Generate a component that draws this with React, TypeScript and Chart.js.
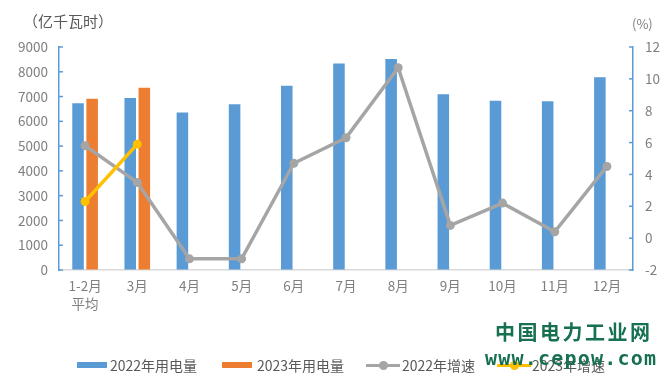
import React, { useEffect, useRef } from "react";
import { Chart, registerables } from "chart.js";

Chart.register(...registerables);

const categories: (string | string[])[] = [
  ["1-2月", "平均"], "3月", "4月", "5月", "6月", "7月", "8月", "9月", "10月", "11月", "12月",
];
const use2022 = [6730, 6940, 6360, 6690, 7440, 8330, 8520, 7090, 6830, 6810, 7780];
const use2023 = [6910, 7360, null, null, null, null, null, null, null, null, null];
const growth2022 = [5.8, 3.5, -1.3, -1.3, 4.7, 6.3, 10.7, 0.8, 2.2, 0.4, 4.5];
const growth2023 = [2.3, 5.9, null, null, null, null, null, null, null, null, null];
const leftTicks = { min: 0, max: 9000, step: 1000 };
const rightTicks = { min: -2, max: 12, step: 2 };

const FONT = '"Noto Sans CJK SC", "Noto Sans", sans-serif';
const BLUE = "#5B9BD5";
const ORANGE = "#ED7D31";
const GRAY = "#A5A5A5";
const YELLOW = "#FFC000";
const TEXT = "#7F7F7F";
const GREEN = "#17704F";

const innerTicks = {
  id: "innerTicks",
  afterDraw(chart: any) {
    const ctx = chart.ctx;
    ctx.save();
    ctx.strokeStyle = BLUE;
    ctx.lineWidth = 1.5;
    const y = chart.scales.y;
    const y1 = chart.scales.y1;
    y.ticks.forEach((_t: any, i: number) => {
      const p = y.getPixelForTick(i);
      ctx.beginPath();
      ctx.moveTo(y.right, p);
      ctx.lineTo(y.right + 4, p);
      ctx.stroke();
    });
    y1.ticks.forEach((_t: any, i: number) => {
      const p = y1.getPixelForTick(i);
      ctx.beginPath();
      ctx.moveTo(y1.left, p);
      ctx.lineTo(y1.left - 4, p);
      ctx.stroke();
    });
    ctx.restore();
  },
};

export default function App() {
  const ref = useRef<HTMLCanvasElement>(null);
  useEffect(() => {
    document.body.style.margin = "0";
    const chart = new Chart(ref.current!, {
      type: "bar",
      data: {
        labels: categories as any,
        datasets: [
          { type: "line", label: "2022年增速", data: growth2022, yAxisID: "y1", borderColor: GRAY, backgroundColor: GRAY, borderWidth: 3.5, pointRadius: 4.5, pointBorderWidth: 0, pointBackgroundColor: GRAY, order: 1 },
          { type: "line", label: "2023年增速", data: growth2023 as any, yAxisID: "y1", borderColor: YELLOW, backgroundColor: YELLOW, borderWidth: 3.5, pointRadius: 4.5, pointBorderWidth: 0, pointBackgroundColor: YELLOW, order: 0 },
          { type: "bar", label: "2022年用电量", data: use2022, yAxisID: "y", backgroundColor: BLUE, categoryPercentage: 0.54, barPercentage: 0.82, order: 2 },
          { type: "bar", label: "2023年用电量", data: use2023 as any, yAxisID: "y", backgroundColor: ORANGE, categoryPercentage: 0.54, barPercentage: 0.82, order: 3 },
        ] as any,
      },
      options: {
        animation: false,
        responsive: false,
        maintainAspectRatio: false,
        layout: { padding: { top: 47, left: 0, right: 0, bottom: 0 } },
        plugins: { legend: { display: false }, tooltip: { enabled: false } },
        scales: {
          x: {
            grid: { display: true, drawOnChartArea: false, drawTicks: false },
            border: { color: "#D9D9D9", width: 1.5 },
            ticks: { color: TEXT, font: { family: FONT, size: 13.5, lineHeight: 1.32 }, padding: 7, maxRotation: 0, autoSkip: false },
            afterFit: (s: any) => { s.height = 118; },
          },
          y: {
            position: "left",
            min: leftTicks.min, max: leftTicks.max,
            grid: { display: true, drawOnChartArea: false, drawTicks: false },
            border: { color: BLUE, width: 1.5 },
            ticks: { stepSize: leftTicks.step, color: TEXT, font: { family: FONT, size: 13.5 }, padding: 11, callback: (v: any) => String(v) },
            afterFit: (s: any) => { s.width = 59; },
          },
          y1: {
            position: "right",
            min: rightTicks.min, max: rightTicks.max,
            grid: { display: true, drawOnChartArea: false, drawTicks: false },
            border: { color: BLUE, width: 1.5 },
            ticks: { stepSize: rightTicks.step, color: TEXT, font: { family: FONT, size: 13.5 }, padding: 12, callback: (v: any) => String(v) },
            afterFit: (s: any) => { s.width = 39; },
          },
        },
      },
      plugins: [innerTicks],
    });
    return () => chart.destroy();
  }, []);

  const legendText: React.CSSProperties = { position: "absolute", top: 356, fontFamily: FONT, fontSize: 14, color: "#595959", lineHeight: "18px", whiteSpace: "nowrap" };
  const swatch = (left: number, color: string): React.CSSProperties => ({ position: "absolute", left, top: 362, width: 30, height: 6, background: color });
  const lineSw = (left: number, color: string) => (
    <>
      <div style={{ position: "absolute", left, top: 363.5, width: 34, height: 3.5, background: color }} />
      <div style={{ position: "absolute", left: left + 12.5, top: 360.5, width: 9, height: 9, borderRadius: "50%", background: color }} />
    </>
  );

  return (
    <div style={{ position: "absolute", left: 0, top: 0, width: 672, height: 388, background: "#fff", overflow: "hidden" }}>
      <canvas ref={ref} width={672} height={388} style={{ position: "absolute", left: 0, top: 0, width: 672, height: 388 }} />
      <div style={{ position: "absolute", left: 23, top: 10, fontFamily: FONT, fontSize: 15, color: "#595959", whiteSpace: "nowrap" }}>（亿千瓦时）</div>
      <div style={{ position: "absolute", left: 632, top: 14, fontFamily: FONT, fontSize: 13, color: TEXT, whiteSpace: "nowrap" }}>(%)</div>
      <div style={swatch(77, BLUE)} />
      <div style={{ ...legendText, left: 110 }}>2022年用电量</div>
      <div style={swatch(222, ORANGE)} />
      <div style={{ ...legendText, left: 257 }}>2023年用电量</div>
      {lineSw(366, GRAY)}
      <div style={{ ...legendText, left: 402 }}>2022年增速</div>
      {lineSw(497, YELLOW)}
      <div style={{ ...legendText, left: 532 }}>2023年增速</div>
      <div style={{ position: "absolute", left: 495, top: 322, lineHeight: "20px", fontFamily: FONT, fontWeight: 700, fontSize: 20, letterSpacing: 2.5, color: GREEN, whiteSpace: "nowrap" }}>中国电力工业网</div>
      <div style={{ position: "absolute", left: 485, top: 346, fontFamily: '"DejaVu Sans Mono", monospace', fontWeight: 700, fontSize: 20, letterSpacing: 1.2, color: GREEN, whiteSpace: "nowrap" }}>www.cepow.com</div>
    </div>
  );
}
